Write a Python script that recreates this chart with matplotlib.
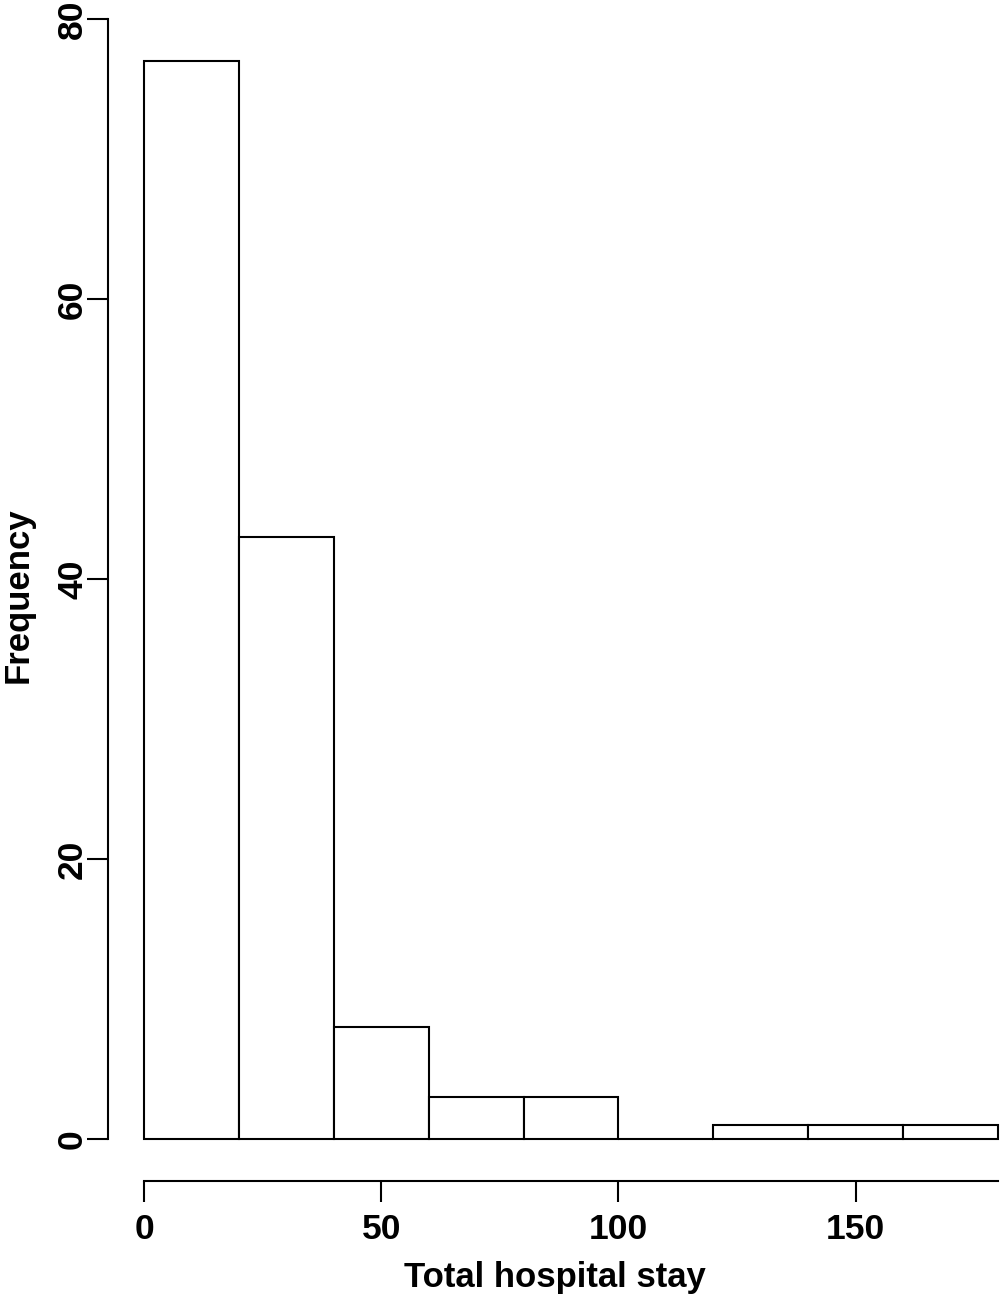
import matplotlib
matplotlib.use("Agg")
import matplotlib.pyplot as plt
import numpy as np

bin_edges = [0, 20, 40, 60, 80, 100, 120, 140, 160, 180]
counts = [77, 43, 8, 3, 3, 0, 1, 1, 1]
x_ticks = [0, 50, 100, 150]
y_ticks = [0, 20, 40, 60, 80]
xlabel = "Total hospital stay"
ylabel = "Frequency"

plt.rcParams['font.family'] = ['Liberation Sans', 'DejaVu Sans']
plt.rcParams['font.weight'] = 'bold'

W, H = 1000, 1307
fig = plt.figure(figsize=(W/100, H/100), dpi=100)
ax = fig.add_axes([144/W, (H-1139)/H, (998-144)/W, (1139-19)/H])
ax.set_xlim(0, 180)
ax.set_ylim(0, 80)

lefts = np.array(bin_edges[:-1])
widths = np.diff(bin_edges)
ax.bar(lefts, counts, width=widths, align='edge', facecolor='white',
       edgecolor='black', linewidth=1.5, clip_on=False)

lw = 1.5
for s in ['top', 'right']:
    ax.spines[s].set_visible(False)
ax.spines['left'].set_position(('outward', 36*0.72))
ax.spines['bottom'].set_position(('outward', 42*0.72))
ax.spines['left'].set_bounds(0, 80)
ax.spines['bottom'].set_bounds(0, 180)
ax.spines['left'].set_linewidth(lw)
ax.spines['bottom'].set_linewidth(lw)

ax.set_xticks(x_ticks)
ax.set_yticks(y_ticks)
ax.set_xticklabels([str(v) for v in x_ticks], fontsize=25.5, fontweight='bold')
ax.set_yticklabels([str(v) for v in y_ticks], fontsize=25.5, fontweight='bold',
                   rotation=90, va='center')
ax.tick_params(axis='both', length=21*0.72, width=lw, direction='out')
ax.tick_params(axis='x', pad=8)
ax.tick_params(axis='y', pad=-1.5)

fig.text(555/W, 1-1277/H, xlabel, fontsize=25, fontweight='bold',
         ha='center', va='center')
fig.text(18/W, 1-595/H, ylabel, fontsize=25, fontweight='bold',
         ha='center', va='center', rotation=90)

fig.savefig("out.png", dpi=100, facecolor='white')
